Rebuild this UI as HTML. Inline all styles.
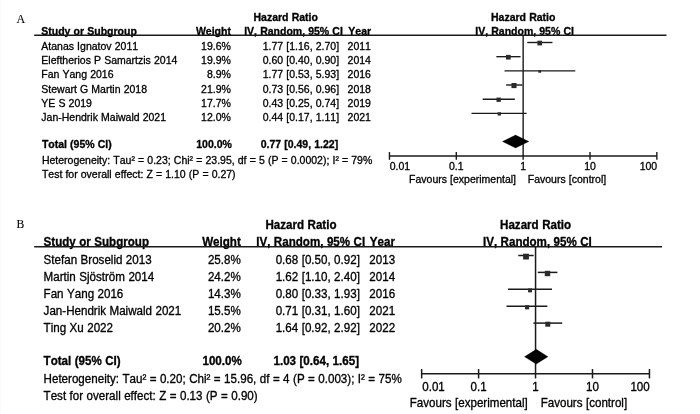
<!DOCTYPE html>
<html><head><meta charset="utf-8"><title>Forest plot</title>
<style>
html,body{margin:0;padding:0;background:#fff;}
body{width:700px;height:414px;overflow:hidden;font-family:"Liberation Sans",sans-serif;}
svg{display:block;will-change:transform;}
text{font-family:"Liberation Sans",sans-serif;fill:#000;stroke:#000;stroke-width:0.3px;stroke-linejoin:round;font-kerning:none;font-feature-settings:"kern" 0,"liga" 0;}
.b{font-weight:bold;}
.s{font-family:"Liberation Serif",serif;stroke-width:0.1px;}
.ln{stroke:#1a1a1a;fill:none;}
.sq{fill:#2a2a2a;}
.dm{fill:#000;stroke:#000;stroke-width:0.3px;stroke-linejoin:round;}
</style></head><body>
<svg width="700" height="414" viewBox="0 0 700 414">
<rect x="0" y="0" width="700" height="414" fill="#ffffff"/>
<rect x="0" y="0" width="1" height="414" fill="#fbfbfb"/>
<!-- Panel A -->
<g style="word-spacing:0.22px">
<text x="16.5" y="23.3" font-size="12" class="s">A</text>
<text x="285.7" y="21.0" font-size="10.5" class="b" text-anchor="middle">Hazard Ratio</text>
<text x="523.2" y="21.0" font-size="10.5" class="b" text-anchor="middle">Hazard Ratio</text>
<text x="41.3" y="34.9" font-size="10.5" class="b">Study or Subgroup</text>
<text x="230.9" y="34.9" font-size="10.5" class="b" text-anchor="end">Weight</text>
<text x="293.5" y="34.9" font-size="10.5" class="b" text-anchor="middle">IV, Random, 95% CI</text>
<text x="348.3" y="34.9" font-size="10.5" class="b">Year</text>
<text x="524.6" y="34.9" font-size="10.5" class="b" text-anchor="middle">IV, Random, 95% CI</text>
<line class="ln" x1="34.20" y1="35.30" x2="666.50" y2="35.30" stroke-width="1.4"/>
<line class="ln" x1="523.15" y1="35.30" x2="523.15" y2="159.85" stroke-width="1.4"/>
<text x="41.3" y="49.85" font-size="10.5">Atanas Ignatov 2011</text>
<text x="230.9" y="49.85" font-size="10.5" text-anchor="end">19.6%</text>
<text x="339.1" y="49.85" font-size="10.5" text-anchor="end">1.77 [1.16, 2.70]</text>
<text x="347.6" y="49.85" font-size="10.5">2011</text>
<line class="ln" x1="527.26" y1="42.50" x2="552.44" y2="42.50" stroke-width="1.4"/>
<rect class="sq" x="537.38" y="40.70" width="4.70" height="4.70"/>
<text x="41.3" y="64.09" font-size="10.5">Eleftherios P Samartzis 2014</text>
<text x="230.9" y="64.09" font-size="10.5" text-anchor="end">19.9%</text>
<text x="339.1" y="64.09" font-size="10.5" text-anchor="end">0.60 [0.40, 0.90]</text>
<text x="347.6" y="64.09" font-size="10.5">2014</text>
<line class="ln" x1="496.35" y1="56.67" x2="520.54" y2="56.67" stroke-width="1.4"/>
<rect class="sq" x="505.97" y="54.87" width="4.70" height="4.70"/>
<text x="41.3" y="78.33" font-size="10.5">Fan Yang 2016</text>
<text x="230.9" y="78.33" font-size="10.5" text-anchor="end">8.9%</text>
<text x="339.1" y="78.33" font-size="10.5" text-anchor="end">1.77 [0.53, 5.93]</text>
<text x="347.6" y="78.33" font-size="10.5">2016</text>
<line class="ln" x1="504.52" y1="70.84" x2="575.28" y2="70.84" stroke-width="1.4"/>
<rect class="sq" x="538.38" y="70.04" width="2.70" height="2.70"/>
<text x="41.3" y="92.57" font-size="10.5">Stewart G Martin 2018</text>
<text x="230.9" y="92.57" font-size="10.5" text-anchor="end">21.9%</text>
<text x="339.1" y="92.57" font-size="10.5" text-anchor="end">0.73 [0.56, 0.96]</text>
<text x="347.6" y="92.57" font-size="10.5">2018</text>
<line class="ln" x1="506.12" y1="85.01" x2="522.41" y2="85.01" stroke-width="1.4"/>
<rect class="sq" x="511.46" y="83.01" width="5.10" height="5.10"/>
<text x="41.3" y="106.81" font-size="10.5">YE S 2019</text>
<text x="230.9" y="106.81" font-size="10.5" text-anchor="end">17.7%</text>
<text x="339.1" y="106.81" font-size="10.5" text-anchor="end">0.43 [0.25, 0.74]</text>
<text x="347.6" y="106.81" font-size="10.5">2019</text>
<line class="ln" x1="482.70" y1="99.18" x2="514.86" y2="99.18" stroke-width="1.4"/>
<rect class="sq" x="496.50" y="97.58" width="4.30" height="4.30"/>
<text x="41.3" y="121.05" font-size="10.5">Jan-Hendrik Maiwald 2021</text>
<text x="230.9" y="121.05" font-size="10.5" text-anchor="end">12.0%</text>
<text x="339.1" y="121.05" font-size="10.5" text-anchor="end">0.44 [0.17, 1.11]</text>
<text x="347.6" y="121.05" font-size="10.5">2021</text>
<line class="ln" x1="471.51" y1="113.35" x2="526.63" y2="113.35" stroke-width="1.4"/>
<rect class="sq" x="497.66" y="112.25" width="3.30" height="3.30"/>
<text x="41.9" y="147.7" font-size="10.5" class="b">Total (95% CI)</text>
<text x="231.9" y="147.7" font-size="10.5" class="b" text-anchor="end">100.0%</text>
<text x="338.20000000000005" y="147.7" font-size="10.5" class="b" text-anchor="end">0.77 [0.49, 1.22]</text>
<text x="41.9" y="163.7" font-size="10.5" textLength="330.4" lengthAdjust="spacing">Heterogeneity: Tau² = 0.23; Chi² = 23.95, df = 5 (P = 0.0002); I² = 79%</text>
<text x="41.9" y="177.6" font-size="10.5" textLength="193.7" lengthAdjust="spacing">Test for overall effect: Z = 1.10 (P = 0.27)</text>
<polygon class="dm" points="502.44,141.5 515.56,135.1 528.92,141.5 515.56,147.9"/>
<line class="ln" x1="389.45" y1="155.95" x2="656.85" y2="155.95" stroke-width="1.4"/>
<line class="ln" x1="389.45" y1="152.05" x2="389.45" y2="159.85" stroke-width="1.4"/>
<line class="ln" x1="456.30" y1="152.05" x2="456.30" y2="159.85" stroke-width="1.4"/>
<line class="ln" x1="590.00" y1="152.05" x2="590.00" y2="159.85" stroke-width="1.4"/>
<line class="ln" x1="656.85" y1="152.05" x2="656.85" y2="159.85" stroke-width="1.4"/>
<text x="389.65" y="170.1" font-size="10.5" transform="matrix(1 0 0 0.96 0 6.804)">0.01</text>
<text x="456.30" y="170.1" font-size="10.5" text-anchor="middle" transform="matrix(1 0 0 0.96 0 6.804)">0.1</text>
<text x="523.15" y="170.1" font-size="10.5" text-anchor="middle" transform="matrix(1 0 0 0.96 0 6.804)">1</text>
<text x="590.00" y="170.1" font-size="10.5" text-anchor="middle" transform="matrix(1 0 0 0.96 0 6.804)">10</text>
<text x="657.15" y="170.1" font-size="10.5" text-anchor="end" transform="matrix(1 0 0 0.96 0 6.804)">100</text>
<text x="409.1" y="183.15" font-size="10.5" transform="matrix(1 0 0 0.96 0 7.326)">Favours [experimental]</text>
<text x="527.8" y="183.15" font-size="10.5" transform="matrix(1 0 0 0.96 0 7.326)">Favours [control]</text>
</g>
<!-- Panel B -->
<g style="word-spacing:0.24px">
<text x="16.5" y="228.3" font-size="11.7" class="s" transform="matrix(1 0 0 1.06 0 -13.698)">B</text>
<text x="301" y="228.9" font-size="11.6" class="b" text-anchor="middle" transform="matrix(1 0 0 1.07 0 -16.023)">Hazard Ratio</text>
<text x="535.6" y="228.9" font-size="11.6" class="b" text-anchor="middle" transform="matrix(1 0 0 1.07 0 -16.023)">Hazard Ratio</text>
<text x="43.6" y="245.7" font-size="11.6" class="b" transform="matrix(1 0 0 1.07 0 -17.199)">Study or Subgroup</text>
<text x="240.8" y="245.7" font-size="11.6" class="b" text-anchor="end" transform="matrix(1 0 0 1.07 0 -17.199)">Weight</text>
<text x="310.7" y="245.7" font-size="11.6" class="b" text-anchor="middle" transform="matrix(1 0 0 1.07 0 -17.199)">IV, Random, 95% CI</text>
<text x="369.8" y="245.7" font-size="11.6" class="b" transform="matrix(1 0 0 1.07 0 -17.199)">Year</text>
<text x="537.4" y="245.7" font-size="11.6" class="b" text-anchor="middle" transform="matrix(1 0 0 1.07 0 -17.199)">IV, Random, 95% CI</text>
<line class="ln" x1="34.20" y1="246.70" x2="662.00" y2="246.70" stroke-width="1.5"/>
<line class="ln" x1="535.55" y1="246.70" x2="535.55" y2="378.45" stroke-width="1.5"/>
<text x="43.6" y="264.20" font-size="11.6" transform="matrix(1 0 0 1.07 0 -18.494)">Stefan Broselid 2013</text>
<text x="240.8" y="264.20" font-size="11.6" text-anchor="end" transform="matrix(1 0 0 1.07 0 -18.494)">25.8%</text>
<text x="359.9" y="264.20" font-size="11.6" text-anchor="end" transform="matrix(1 0 0 1.07 0 -18.494)">0.68 [0.50, 0.92]</text>
<text x="369.3" y="264.20" font-size="11.6" transform="matrix(1 0 0 1.07 0 -18.494)">2013</text>
<line class="ln" x1="518.31" y1="255.50" x2="533.69" y2="255.50" stroke-width="1.5"/>
<rect class="sq" x="523.11" y="253.70" width="5.80" height="5.80"/>
<text x="43.6" y="281.03" font-size="11.6" transform="matrix(1 0 0 1.07 0 -19.672)">Martin Sjöström 2014</text>
<text x="240.8" y="281.03" font-size="11.6" text-anchor="end" transform="matrix(1 0 0 1.07 0 -19.672)">24.2%</text>
<text x="359.9" y="281.03" font-size="11.6" text-anchor="end" transform="matrix(1 0 0 1.07 0 -19.672)">1.62 [1.10, 2.40]</text>
<text x="369.3" y="281.03" font-size="11.6" transform="matrix(1 0 0 1.07 0 -19.672)">2014</text>
<line class="ln" x1="537.81" y1="272.40" x2="557.40" y2="272.40" stroke-width="1.5"/>
<rect class="sq" x="544.78" y="270.80" width="5.40" height="5.40"/>
<text x="43.6" y="297.86" font-size="11.6" transform="matrix(1 0 0 1.07 0 -20.850)">Fan Yang 2016</text>
<text x="240.8" y="297.86" font-size="11.6" text-anchor="end" transform="matrix(1 0 0 1.07 0 -20.850)">14.3%</text>
<text x="359.9" y="297.86" font-size="11.6" text-anchor="end" transform="matrix(1 0 0 1.07 0 -20.850)">0.80 [0.33, 1.93]</text>
<text x="369.3" y="297.86" font-size="11.6" transform="matrix(1 0 0 1.07 0 -20.850)">2016</text>
<line class="ln" x1="508.03" y1="289.30" x2="552.01" y2="289.30" stroke-width="1.5"/>
<rect class="sq" x="528.08" y="288.45" width="3.90" height="3.90"/>
<text x="43.6" y="314.69" font-size="11.6" transform="matrix(1 0 0 1.07 0 -22.028)">Jan-Hendrik Maiwald 2021</text>
<text x="240.8" y="314.69" font-size="11.6" text-anchor="end" transform="matrix(1 0 0 1.07 0 -22.028)">15.5%</text>
<text x="359.9" y="314.69" font-size="11.6" text-anchor="end" transform="matrix(1 0 0 1.07 0 -22.028)">0.71 [0.31, 1.60]</text>
<text x="369.3" y="314.69" font-size="11.6" transform="matrix(1 0 0 1.07 0 -22.028)">2021</text>
<line class="ln" x1="506.48" y1="306.20" x2="547.37" y2="306.20" stroke-width="1.5"/>
<rect class="sq" x="525.03" y="305.25" width="4.10" height="4.10"/>
<text x="43.6" y="331.52" font-size="11.6" transform="matrix(1 0 0 1.07 0 -23.206)">Ting Xu 2022</text>
<text x="240.8" y="331.52" font-size="11.6" text-anchor="end" transform="matrix(1 0 0 1.07 0 -23.206)">20.2%</text>
<text x="359.9" y="331.52" font-size="11.6" text-anchor="end" transform="matrix(1 0 0 1.07 0 -23.206)">1.64 [0.92, 2.92]</text>
<text x="369.3" y="331.52" font-size="11.6" transform="matrix(1 0 0 1.07 0 -23.206)">2022</text>
<line class="ln" x1="533.39" y1="323.10" x2="562.25" y2="323.10" stroke-width="1.5"/>
<rect class="sq" x="545.29" y="321.70" width="5.00" height="5.00"/>
<text x="43.6" y="364.6" font-size="11.6" class="b" transform="matrix(1 0 0 1.07 0 -25.522)">Total (95% CI)</text>
<text x="241.8" y="364.6" font-size="11.6" class="b" text-anchor="end" transform="matrix(1 0 0 1.07 0 -25.522)">100.0%</text>
<text x="359.0" y="364.6" font-size="11.6" class="b" text-anchor="end" transform="matrix(1 0 0 1.07 0 -25.522)">1.03 [0.64, 1.65]</text>
<text x="43.6" y="382.8" font-size="11.6" transform="matrix(1 0 0 1.07 0 -26.796)">Heterogeneity: Tau² = 0.20; Chi² = 15.96, df = 4 (P = 0.003); I² = 75%</text>
<text x="43.6" y="399.8" font-size="11.6" transform="matrix(1 0 0 1.07 0 -27.986)">Test for overall effect: Z = 0.13 (P = 0.90)</text>
<polygon class="dm" points="524.51,356.7 536.28,349.3 547.94,356.7 536.28,364.09999999999997"/>
<line class="ln" x1="421.65" y1="373.75" x2="649.45" y2="373.75" stroke-width="1.5"/>
<line class="ln" x1="421.65" y1="369.05" x2="421.65" y2="378.45" stroke-width="1.5"/>
<line class="ln" x1="478.60" y1="369.05" x2="478.60" y2="378.45" stroke-width="1.5"/>
<line class="ln" x1="592.50" y1="369.05" x2="592.50" y2="378.45" stroke-width="1.5"/>
<line class="ln" x1="649.45" y1="369.05" x2="649.45" y2="378.45" stroke-width="1.5"/>
<text x="422.25" y="390.8" font-size="11.58" transform="matrix(1 0 0 1.07 0 -27.356)">0.01</text>
<text x="478.60" y="390.8" font-size="11.58" text-anchor="middle" transform="matrix(1 0 0 1.07 0 -27.356)">0.1</text>
<text x="535.55" y="390.8" font-size="11.58" text-anchor="middle" transform="matrix(1 0 0 1.07 0 -27.356)">1</text>
<text x="592.50" y="390.8" font-size="11.58" text-anchor="middle" transform="matrix(1 0 0 1.07 0 -27.356)">10</text>
<text x="649.75" y="390.8" font-size="11.58" text-anchor="end" transform="matrix(1 0 0 1.07 0 -27.356)">100</text>
<text x="409.8" y="406.6" font-size="11.58" transform="matrix(1 0 0 1.07 0 -28.462)">Favours [experimental]</text>
<text x="540.7" y="406.6" font-size="11.58" transform="matrix(1 0 0 1.07 0 -28.462)">Favours [control]</text>
</g>
</svg>
</body></html>
